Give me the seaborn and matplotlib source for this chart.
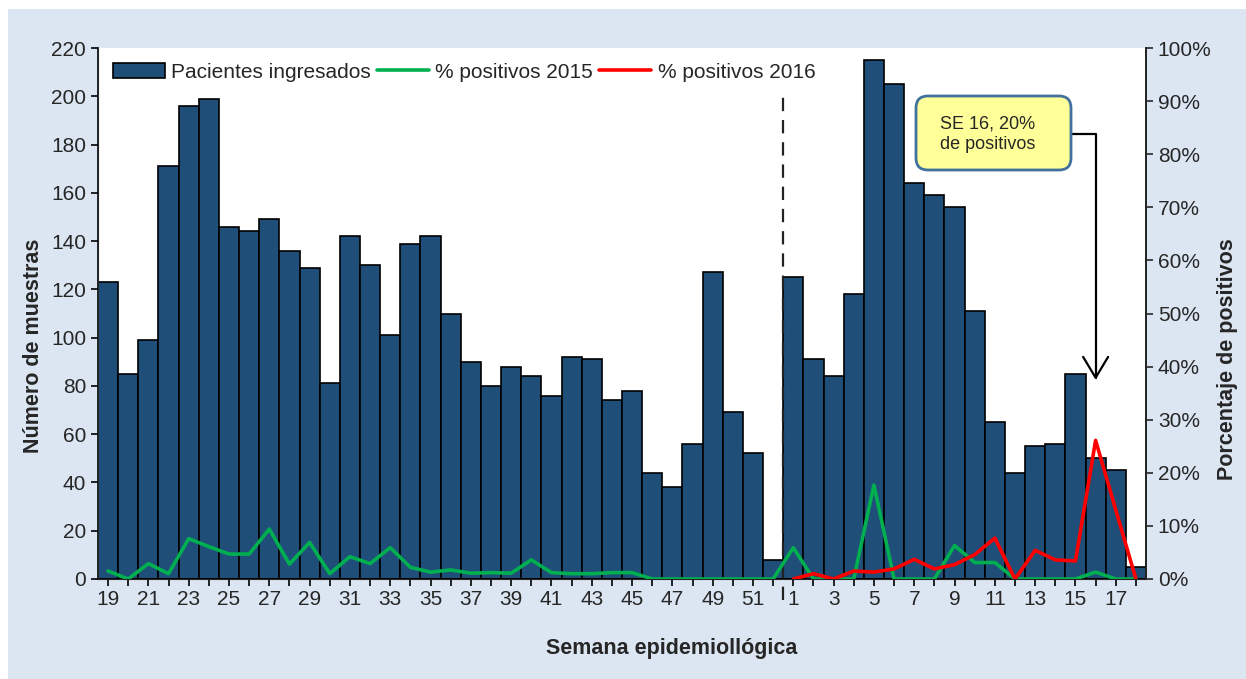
import numpy as np
import pandas as pd
import matplotlib
matplotlib.use('Agg')
import matplotlib.pyplot as plt
import seaborn as sns
from matplotlib.patches import Rectangle, FancyBboxPatch, Patch
from matplotlib.lines import Line2D
from matplotlib.ticker import PercentFormatter

# Data
weeks = list(range(19, 53)) + list(range(1, 19))
pacientes = [123, 85, 99, 171, 196, 199, 146, 144, 149, 136, 129, 81, 142, 130, 101, 139, 142, 110,
             90, 80, 88, 84, 76, 92, 91, 74, 78, 44, 38, 56, 127, 69, 52, 8,
             125, 91, 84, 118, 215, 205, 164, 159, 154, 111, 65, 44, 55, 56, 85, 50, 45, 5]
pct_2015 = [1.5, 0, 2.9, 1.0, 7.6, 6.1, 4.7, 4.7, 9.4, 2.8, 6.9, 1.0, 4.2, 2.9, 5.9, 2.2, 1.3, 1.7,
            1.1, 1.2, 1.1, 3.6, 1.2, 1.0, 1.0, 1.2, 1.2, 0, 0, 0, 0, 0, 0, 0,
            5.9, 0, 0, 0, 17.7, 0, 0, 0, 6.3, 3.1, 3.1, 0, 0, 0, 0, 1.3, 0, 0]
pct_2016 = [np.nan] * 34 + [0, 1.0, 0, 1.5, 1.3, 1.9, 3.7, 1.9, 2.7, 4.6, 7.7, 0, 5.4, 3.6, 3.4, 26.1, 13, 0]

df = pd.DataFrame({'pos': np.arange(len(weeks)), 'semana': weeks, 'pacientes': pacientes,
                   'p2015': pct_2015, 'p2016': pct_2016})

sns.set_style('ticks')
plt.rcParams['font.family'] = ['Liberation Sans', 'DejaVu Sans']

bar_color = '#1F4E79'
green = '#00B050'
red = '#FF0000'
fs = 15

fig = plt.figure(figsize=(12.46, 6.79), dpi=100, facecolor='white')
fig.patches.append(Rectangle((8 / 1246, 0), 1, 1 - 9 / 679, transform=fig.transFigure,
                             facecolor='#DCE6F2', edgecolor='none', zorder=-10))
ax = fig.add_axes([98 / 1246, 1 - 579 / 679, 1048 / 1246, 531 / 679])
ax.set_facecolor('white')

sns.barplot(data=df, x='pos', y='pacientes', color=bar_color, saturation=1, width=1.0,
            edgecolor='black', linewidth=1.2, ax=ax)
ax.set_xlim(-0.5, len(weeks) - 0.5)
ax.set_ylim(0, 220)
ax.set_yticks(range(0, 221, 20))
ax.set_xticks(df['pos'])
ax.set_xticklabels([str(w) if i % 2 == 0 else '' for i, w in enumerate(weeks)])
ax.tick_params(axis='both', labelsize=fs, length=5, width=1.2, color='black')
ax.tick_params(axis='x', pad=3)
ax.set_xlabel('Semana epidemiollógica', fontsize=15.5, fontweight='bold')
ax.xaxis.set_label_coords(0.547, -0.111)
ax.set_ylabel('Número de muestras', fontsize=15.5, fontweight='bold')
ax.yaxis.set_label_coords(-0.0515, 0.44)
ax.spines['top'].set_visible(False)
for s in ['left', 'bottom', 'right']:
    ax.spines[s].set_linewidth(1.2)
    ax.spines[s].set_color('black')

# separator between years
ax.plot([33.5, 33.5], [-8.5, 203], ls='--', color='#222222', lw=1.6, dashes=(6, 4), clip_on=False, zorder=3)

ax2 = ax.twinx()
sns.lineplot(data=df, x='pos', y='p2015', color=green, lw=2.6, ax=ax2)
sns.lineplot(data=df, x='pos', y='p2016', color=red, lw=2.6, ax=ax2)
ax2.set_ylim(0, 100)
ax2.set_yticks(range(0, 101, 10))
ax2.yaxis.set_major_formatter(PercentFormatter(xmax=100, decimals=0))
ax2.tick_params(axis='y', labelsize=fs, length=5, width=1.2)
ax2.set_ylabel('Porcentaje de positivos', fontsize=15.5, fontweight='bold')
ax2.yaxis.set_label_coords(1.068, 0.414)
ax2.spines['top'].set_visible(False)
ax2.spines['right'].set_linewidth(1.2)
ax2.set_xlabel('')

handles = [Patch(facecolor=bar_color, edgecolor='black', linewidth=1.2),
           Line2D([], [], color=green, lw=2.6),
           Line2D([], [], color=red, lw=2.6)]
labels = ['Pacientes ingresados', '% positivos 2015', '% positivos 2016']
ax2.legend(handles, labels, loc='upper left', bbox_to_anchor=(0.0, 1.0), ncol=3, frameon=False,
           fontsize=fs, handlelength=2.5, handletextpad=0.3, columnspacing=0.3, borderaxespad=0.3)

# annotation box + arrow
box = FancyBboxPatch((9.16, 5.09), 1.55, 0.74, boxstyle='round,pad=0,rounding_size=0.12',
                     transform=fig.dpi_scale_trans, facecolor='#FFFF99', edgecolor='#41719C',
                     linewidth=2)
fig.patches.append(box)
fig.text(9.40 / 12.46, 5.45 / 6.79, 'SE 16, 20%\nde positivos', fontsize=13, va='center', ha='left',
         linespacing=1.3)
ax2.annotate('', xy=(49, 37.5), xycoords='data', xytext=(1071, 679 - 134), textcoords='figure pixels',
             arrowprops=dict(arrowstyle='->,head_length=0.75,head_width=0.45', color='black', lw=1.6,
                             mutation_scale=20,
                             connectionstyle='angle,angleA=0,angleB=90,rad=0', shrinkA=0, shrinkB=0))

fig.savefig('out.png', dpi=100, facecolor=fig.get_facecolor())
